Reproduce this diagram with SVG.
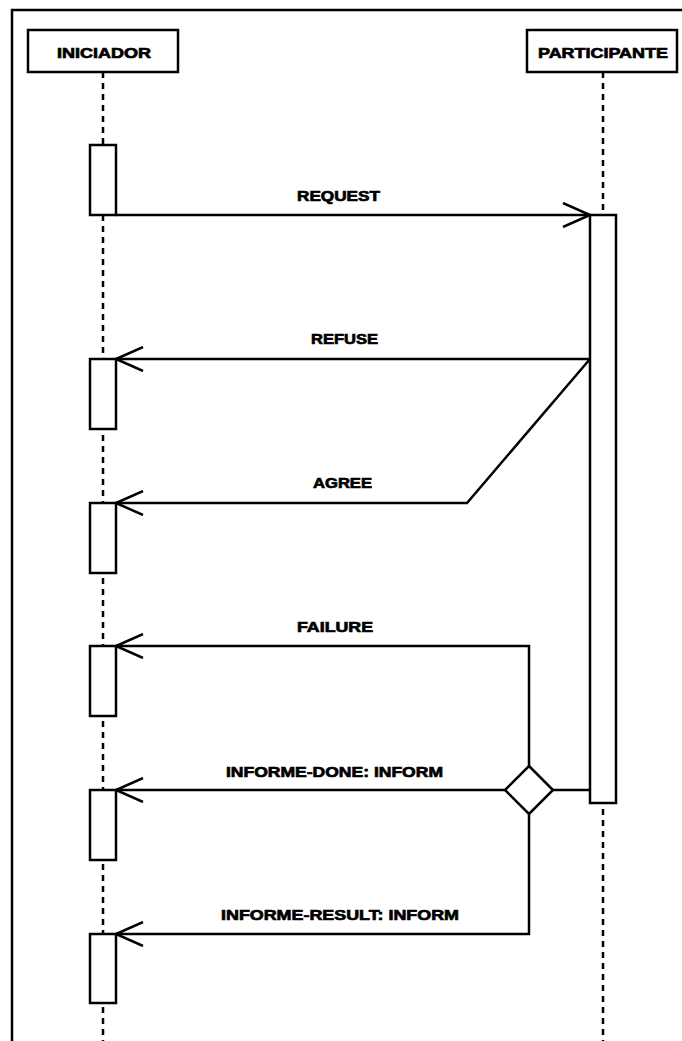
<svg xmlns="http://www.w3.org/2000/svg" width="682" height="1041" viewBox="0 0 682 1041">
<style>
.box{fill:#fff;stroke:#000;stroke-width:2.5}
.life{stroke:#000;stroke-width:2.5;stroke-dasharray:6,5;fill:none}
.ln{stroke:#000;stroke-width:2.5;fill:none}
.t{font-family:"Liberation Sans",Arial,sans-serif;font-weight:bold;font-size:15px;fill:#000;stroke:#000;stroke-width:0.7;text-anchor:start}
</style>
<defs>
<marker id="open" viewBox="0 0 30 26" refX="28" refY="13" markerWidth="30" markerHeight="26" markerUnits="userSpaceOnUse" orient="auto">
<path d="M1,1 L28,13 L1,25" fill="none" stroke="#000" stroke-width="2.5"/>
</marker>
</defs>
<rect width="682" height="1041" fill="#fff"/>
<path d="M12,1041 L12,10 L682,10" class="ln"/>
<g id="lifelines">
<line x1="103" y1="72" x2="103" y2="1041" class="life"/>
<line x1="603" y1="72" x2="603" y2="1041" class="life"/>
</g>
<g id="iniciador">
<rect x="28" y="30" width="150" height="42" class="box"/>
<text x="57" y="58" class="t" textLength="94" lengthAdjust="spacingAndGlyphs">INICIADOR</text>
</g>
<g id="participante">
<rect x="527" y="30" width="150" height="42" class="box"/>
<text x="538" y="58" class="t" textLength="130" lengthAdjust="spacingAndGlyphs">PARTICIPANTE</text>
</g>
<g id="activations">
<rect x="90" y="145" width="26" height="70" class="box"/>
<rect x="90" y="359" width="26" height="70" class="box"/>
<rect x="90" y="503" width="26" height="70" class="box"/>
<rect x="90" y="646" width="26" height="70" class="box"/>
<rect x="90" y="790" width="26" height="70" class="box"/>
<rect x="90" y="934" width="26" height="69" class="box"/>
<rect x="590" y="215" width="26" height="588" class="box"/>
</g>
<g id="decision">
<path d="M529,766 L553,790 L529,814 L505,790 Z" class="box"/>
</g>
<g id="connectors">
<path d="M116,215 L590,215" class="ln" marker-end="url(#open)"/>
<path d="M590,359 L116,359" class="ln" marker-end="url(#open)"/>
<path d="M590,359 L467,503 L116,503" class="ln" marker-end="url(#open)"/>
<path d="M529,766 L529,646 L116,646" class="ln" marker-end="url(#open)"/>
<path d="M590,790 L553,790" class="ln"/>
<path d="M505,790 L116,790" class="ln" marker-end="url(#open)"/>
<path d="M529,814 L529,934 L116,934" class="ln" marker-end="url(#open)"/>
</g>
<g id="labels">
<text x="297" y="201" class="t" textLength="83" lengthAdjust="spacingAndGlyphs">REQUEST</text>
<text x="311" y="344" class="t" textLength="67" lengthAdjust="spacingAndGlyphs">REFUSE</text>
<text x="313" y="488" class="t" textLength="59" lengthAdjust="spacingAndGlyphs">AGREE</text>
<text x="297" y="632" class="t" textLength="76" lengthAdjust="spacingAndGlyphs">FAILURE</text>
<text x="226" y="777" class="t" textLength="217" lengthAdjust="spacingAndGlyphs">INFORME-DONE: INFORM</text>
<text x="221" y="920" class="t" textLength="238" lengthAdjust="spacingAndGlyphs">INFORME-RESULT: INFORM</text>
</g>
</svg>
